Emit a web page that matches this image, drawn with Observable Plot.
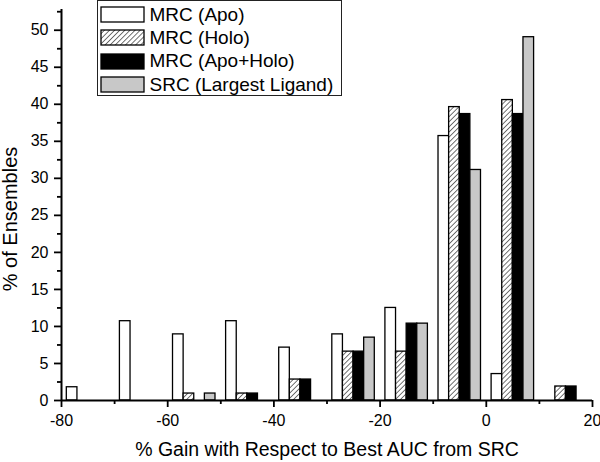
<!DOCTYPE html>
<html>
<head>
<meta charset="utf-8">
<script src="https://cdn.jsdelivr.net/npm/d3@7"></script>
<script src="https://cdn.jsdelivr.net/npm/@observablehq/plot@0.6"></script>
<style>
  html, body { margin: 0; padding: 0; background: white; }
  #wrap { position: relative; width: 600px; height: 462px; font-family: "Liberation Sans", Arial, sans-serif; }
  #legend { position: absolute; left: 97px; top: 0px; width: 245px; height: 96px; box-sizing: border-box;
            border: 1.3px solid #222; background: white; padding-top: 2px; }
  .row { display: flex; align-items: center; height: 23.3px; }
  .row svg { margin-left: 1.5px; flex: none; }
  .row span { margin-left: 5px; font-size: 19px; color: black; white-space: nowrap; }
</style>
</head>
<body>
<svg width="0" height="0" style="position:absolute">
  <defs>
    <pattern id="hatch" patternUnits="userSpaceOnUse" width="3.6" height="3.6" patternTransform="rotate(45)">
      <rect width="3.6" height="3.6" fill="white"></rect>
      <line x1="0" y1="0" x2="0" y2="3.6" stroke="black" stroke-width="1.1"></line>
    </pattern>
  </defs>
</svg>
<div id="wrap"><div id="legend"></div></div>
<script>
const bins = [-80, -70, -60, -50, -40, -30, -20, -10, 0, 10];
const seriesNames = ["MRC (Apo)", "MRC (Holo)", "MRC (Apo+Holo)", "SRC (Largest Ligand)"];
const apo      = [1.79, 10.71, 8.93, 10.71, 7.14, 8.93, 12.50, 35.71, 3.57, 0];
const holo     = [0, 0, 0.94, 0.94, 2.83, 6.60, 6.60, 39.62, 40.57, 1.89];
const apoHolo  = [0, 0, 0, 0.94, 2.83, 6.60, 10.38, 38.68, 38.68, 1.89];
const largest  = [0, 0, 0.94, 0, 0, 8.49, 10.38, 31.13, 49.06, 0];
const xMajorTicks = [-80, -60, -40, -20, 0, 20];
const xMinorTicks = [-70, -50, -30, -10, 10];
const yMajorTicks = [0, 5, 10, 15, 20, 25, 30, 35, 40, 45, 50];
const yMinorTicks = [2.5, 7.5, 12.5, 17.5, 22.5, 27.5, 32.5, 37.5, 42.5, 47.5, 52.5];
const xTitle = "% Gain with Respect to Best AUC from SRC";
const yTitle = "% of Ensembles";

const valuesBySeries = [apo, holo, apoHolo, largest];
const fills = ["white", "url(#hatch)", "black", "#c8c8c8"];

const rows = [];
valuesBySeries.forEach((vals, i) => bins.forEach((b, j) => rows.push({i, bin: b, value: vals[j]})));

const chart = Plot.plot({
  width: 600, height: 462,
  marginLeft: 61, marginRight: 8, marginTop: 9, marginBottom: 62,
  x: {domain: [-80, 20]},
  y: {domain: [0, 52.8]},
  style: {fontFamily: "'Liberation Sans', Arial, sans-serif", fontSize: "16px", color: "black", background: "white", overflow: "visible"},
  marks: [
    ...seriesNames.map((name, i) => Plot.rect(rows.filter(d => d.i === i && d.value > 0), {
      x1: d => d.bin + 1 + 2 * i,
      x2: d => d.bin + 3 + 2 * i,
      y1: d => 0,
      y2: "value",
      fill: fills[i], stroke: "black", strokeWidth: 1.3
    })),
    Plot.ruleX([-80], {stroke: "black", strokeWidth: 2}),
    Plot.ruleY([0], {stroke: "black", strokeWidth: 2}),
    Plot.axisX(xMajorTicks, {tickSize: 7, tickPadding: 7, tickFormat: d => String(d), label: null, strokeWidth: 1.8, fontSize: 16}),
    Plot.axisX(xMinorTicks, {tickSize: 4, tickFormat: () => "", label: null, strokeWidth: 1.8}),
    Plot.axisY(yMajorTicks, {tickSize: 7, tickPadding: 6, tickFormat: d => String(d), label: null, strokeWidth: 1.8, fontSize: 16}),
    Plot.axisY(yMinorTicks, {tickSize: 4, tickFormat: () => "", label: null, strokeWidth: 1.8}),
    Plot.text([xTitle], {frameAnchor: "bottom", dy: 49, textAnchor: "middle", lineAnchor: "middle", fontSize: 19.5}),
    Plot.text([yTitle], {frameAnchor: "left", dx: -51, dy: 14, rotate: -90, textAnchor: "middle", lineAnchor: "middle", fontSize: 20})
  ]
});
const wrap = document.getElementById("wrap");
wrap.insertBefore(chart, wrap.firstChild);

const legend = document.getElementById("legend");
seriesNames.forEach((name, i) => {
  const row = document.createElement("div");
  row.className = "row";
  row.innerHTML = `<svg width="45" height="17"><rect x="1" y="1" width="43" height="15" fill="${fills[i]}" stroke="black" stroke-width="1.3"></rect></svg><span>${name}</span>`;
  legend.appendChild(row);
});
</script>
</body>
</html>
